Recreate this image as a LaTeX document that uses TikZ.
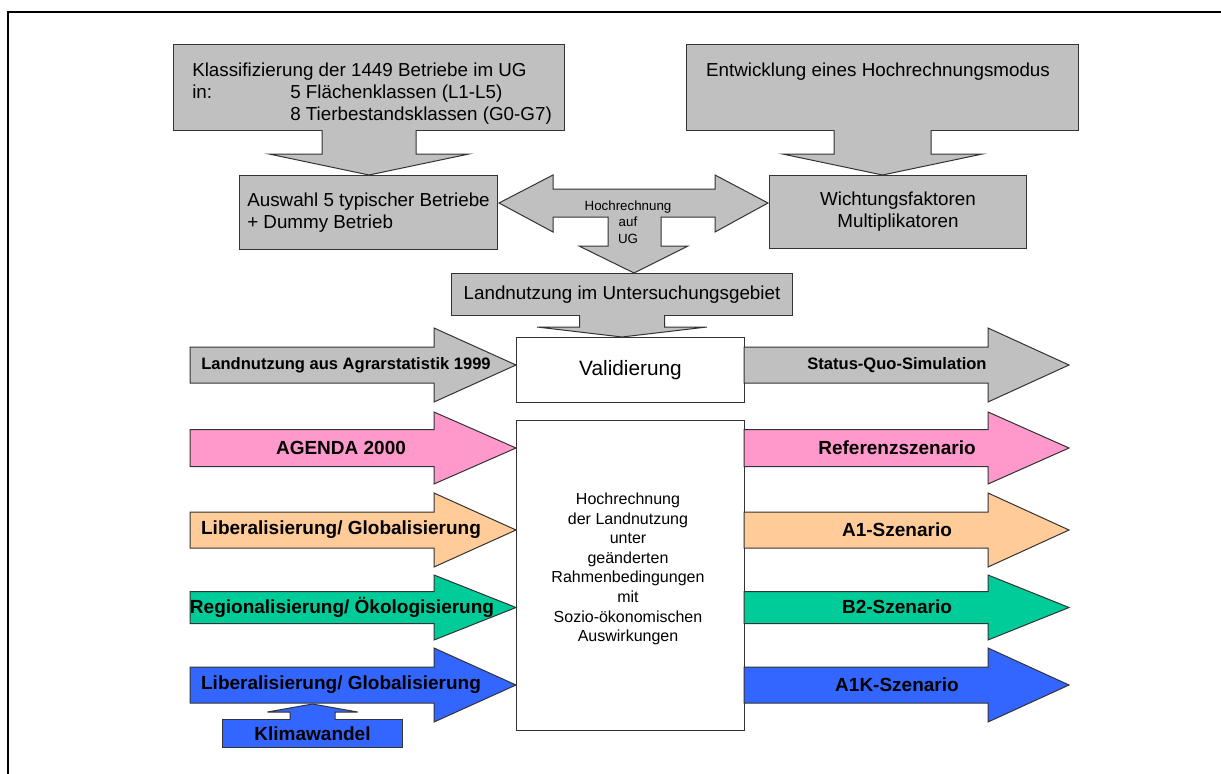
\documentclass[tikz,border=0pt]{standalone}
\usepackage{fontspec}
\setmainfont{Liberation Sans}
\usetikzlibrary{calc}
\definecolor{grau}{HTML}{C0C0C0}
\definecolor{rosa}{HTML}{FF99CC}
\definecolor{apricot}{HTML}{FFCC99}
\definecolor{gruen}{HTML}{00CC99}
\definecolor{blau}{HTML}{3366FF}
\tikzset{
  box/.style={draw=black!80, line width=0.75pt, fill=grau, inner sep=0pt, anchor=north west},
  pfeil/.style={draw=black!80, line width=0.75pt, fill=grau},
  txt/.style={font=\fontsize{14.1}{16.5}\selectfont},
  lab/.style={font=\fontsize{14.25}{16}\bfseries\selectfont},
  glab/.style={font=\fontsize{12.4}{14}\bfseries\selectfont}
}
% block arrow from one node anchor to another
\newcommand{\blockpfeil}[6][]{%
  \draw[pfeil,#1] ($(#2)+(-#4,{-sign(#6)})$) -- ($(#2)+(-#4,#6)$) -- ($(#2)+(-#5,#6)$)
    -- (#2 |- #3) -- ($(#2)+(#5,#6)$) -- ($(#2)+(#4,#6)$) -- ($(#2)+(#4,{-sign(#6)})$);}
% side arrow: colour, x start, x head, x tip, y centre, shaft half, head half
\newcommand{\seitpfeil}[7]{%
  \draw[pfeil, fill=#1] (#2,#5-#6) -- (#3,#5-#6) -- (#3,#5-#7) -- (#4,#5)
    -- (#3,#5+#7) -- (#3,#5+#6) -- (#2,#5+#6) -- cycle;}

\begin{document}
\begin{tikzpicture}[x=0.75pt,y=-0.75pt]
\useasboundingbox (0,0) rectangle (1221,774);
\draw[line width=1.5pt] (7.5,12) rectangle (1240,790);

% top boxes
\node[box, minimum width=293.25pt, minimum height=64.5pt] (klass) at (173,44) {};
\node[txt, anchor=north west, align=left, inner sep=0pt] (klasstxt) at (192,63)
  {Klassifizierung der 1449 Betriebe im UG\\
   \makebox[73.5pt][l]{in:}5 Flächenklassen (L1-L5)\\
   \hspace*{73.5pt}8 Tierbestandsklassen (G0-G7)};
\node[box, minimum width=294pt, minimum height=64.5pt] (entw) at (686,44) {};
\node[txt, anchor=north, inner sep=0pt] (entwtxt) at (878,63) {Entwicklung eines Hochrechnungsmodus};

\node[box, txt, align=left, minimum width=193.5pt, minimum height=55.5pt] (auswahl) at (239,175)
  {Auswahl 5 typischer Betriebe\\+ Dummy Betrieb};
\node[box, txt, align=center, minimum width=192.75pt, minimum height=54.75pt] (wicht) at (769,175)
  {Wichtungsfaktoren\\Multiplikatoren};

\blockpfeil{klass.south}{auswahl.north}{47}{100}{23}
\blockpfeil{entw.south}{wicht.north}{48.5}{100}{23}

% Hochrechnung auf UG
\draw[pfeil] (499,203) -- (553,175) -- (553,189) -- (715,189) -- (715,175) -- (768,203)
  -- (715,232) -- (715,217) -- (661,217) -- (661,246) -- (688,246) -- (634,273)
  -- (579,246) -- (608,246) -- (608,217) -- (553,217) -- (553,232) -- cycle;
\node[font=\fontsize{10}{12.4}\selectfont, align=center] (hru) at (628,222) {Hochrechnung\\auf\\UG};

\node[box, txt, minimum width=255.75pt, minimum height=31.5pt] (landn) at (451,273)
  {Landnutzung im Untersuchungsgebiet};

\node[box, fill=white, font=\fontsize{15.6}{18}\selectfont, minimum width=171pt, minimum height=48.75pt] (valid) at (516,337)
  {Validierung};
\node[box, fill=white, minimum width=171pt, minimum height=232.5pt] (hoch) at (516,420) {};
\node[font=\fontsize{12}{14.7}\selectfont, align=center] (hochtxt) at (628,569)
  {Hochrechnung\\der Landnutzung\\unter\\geänderten\\Rahmenbedingungen\\mit\\Sozio-ökonomischen\\Auswirkungen};

\blockpfeil{landn.south}{valid.north}{42.5}{85}{11}

% scenario rows
\seitpfeil{grau}{190}{434}{516}{365}{18}{37}
\seitpfeil{grau}{744}{988}{1069}{365}{18}{37}
\seitpfeil{rosa}{190}{434}{516}{448}{18.5}{36}
\seitpfeil{rosa}{744}{988}{1069}{448}{18.5}{36}
\seitpfeil{apricot}{190}{434}{516}{530}{18}{37}
\seitpfeil{apricot}{744}{988}{1069}{530}{18}{37}
\seitpfeil{gruen}{190}{434}{516}{607.5}{16}{32.5}
\seitpfeil{gruen}{744}{988}{1069}{607.5}{16}{32.5}
\seitpfeil{blau}{190}{434}{516}{685}{18}{37}
\seitpfeil{blau}{744}{988}{1069}{685}{18}{37}

\node[glab] (statistik) at (346,365) {Landnutzung aus Agrarstatistik 1999};
\node[glab] (statusquo) at (897,365) {Status-Quo-Simulation};
\node[lab] (agenda) at (341,448) {AGENDA 2000};
\node[lab] (referenz) at (897,448) {Referenzszenario};
\node[lab] (libglob) at (341,530) {Liberalisierung/ Globalisierung};
\node[lab] (aeins) at (897,530) {A1-Szenario};
\node[lab] (regoeko) at (342,607) {Regionalisierung/ Ökologisierung};
\node[lab] (bzwei) at (897,607) {B2-Szenario};
\node[lab] (libglobk) at (341,685) {Liberalisierung/ Globalisierung};
\node[lab] (aeinsk) at (897,685) {A1K-Szenario};

% Klimawandel
\node[box, fill=blau, lab, minimum width=135pt, minimum height=21pt] (klima) at (222,719) {Klimawandel};
\coordinate (blaubasis) at (312,704);
\blockpfeil[fill=blau]{klima.north}{blaubasis}{22.5}{45}{-7}
\end{tikzpicture}
\end{document}
